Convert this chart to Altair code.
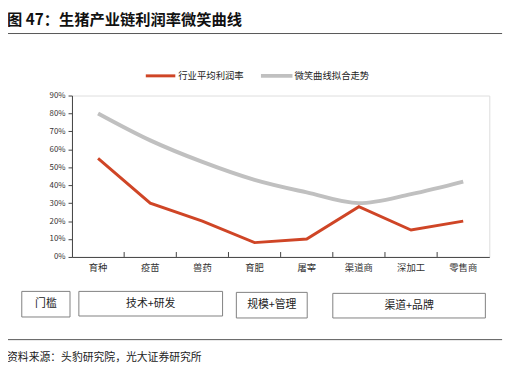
import altair as alt
import pandas as pd

FONT = "Noto Sans CJK SC"

categories = ["育种", "疫苗", "兽药", "育肥", "屠宰", "渠道商", "深加工", "零售商"]
profit = [0.55, 0.30, 0.20, 0.08, 0.10, 0.28, 0.15, 0.20]
smile = [0.80, 0.65, 0.53, 0.43, 0.36, 0.30, 0.35, 0.42]
series_names = ["行业平均利润率", "微笑曲线拟合走势"]
stage_labels = ["门槛", "技术+研发", "规模+管理", "渠道+品牌"]
title_text = "图 47：生猪产业链利润率微笑曲线"
source_text = "资料来源：头豹研究院，光大证券研究所"

RED = "#CF4526"
GRAY = "#C0C0C0"
AXIS = "#404040"

W, H = 424, 164

df = pd.DataFrame({"cat": categories, "profit": profit, "smile": smile})
order = categories

xenc = alt.X("cat:N", sort=order, title=None,
             scale=alt.Scale(paddingInner=0, paddingOuter=0),
             axis=alt.Axis(labelFont=FONT, labelFontSize=9.5, labelColor="#333333",
                           labelAngle=0, ticks=False, labelPadding=6,
                           labelOverlap=False, domainColor=AXIS))
yscale = alt.Scale(domain=[0, 0.9], nice=False)
yaxis = alt.Axis(values=[round(i * 0.1, 1) for i in range(10)], format=".0%", grid=False,
                 labelFont=FONT, labelFontSize=8, labelColor="#333333",
                 labelOverlap=False, labelBound=False, labelFlush=False,
                 tickSize=4, tickColor=AXIS, domainColor=AXIS, labelPadding=3)

base = alt.Chart(df)
gray_line = base.mark_line(color=GRAY, strokeWidth=4, interpolate="monotone").encode(
    x=xenc, y=alt.Y("smile:Q", scale=yscale, axis=yaxis, title=None))
red_line = base.mark_line(color=RED, strokeWidth=3).encode(
    x=xenc, y=alt.Y("profit:Q", scale=yscale, axis=yaxis, title=None))

ticks = alt.Chart(pd.DataFrame({"cat": categories[:-1]})).mark_rule(
    color=AXIS, strokeWidth=1).encode(
    x=alt.X("cat:N", sort=order, bandPosition=1),
    y=alt.value(H - 5), y2=alt.value(H))

layers = [gray_line, red_line, ticks]

def txt(s, x, y, size, align="left", weight="normal", color="#222222"):
    return alt.Chart(pd.DataFrame({"t": [s]})).mark_text(
        font=FONT, fontSize=size, align=align, baseline="middle",
        fontWeight=weight, color=color).encode(
        text="t:N", x=alt.value(x), y=alt.value(y))

def hline(x0, x1, y, color, width):
    return alt.Chart(pd.DataFrame({"a": [0]})).mark_rule(
        color=color, strokeWidth=width).encode(
        x=alt.value(x0), x2=alt.value(x1), y=alt.value(y))

# title and rule
layers.append(txt(title_text, -66, -77, 15.5, weight="bold", color="#111111"))
layers.append(hline(-67, 437, -63, "#555555", 1))

# legend
layers.append(hline(75, 105, -20, RED, 3))
layers.append(txt(series_names[0], 108, -20, 9.5))
layers.append(hline(192, 224, -20, GRAY, 4))
layers.append(txt(series_names[1], 226, -20, 9.5))

# stage boxes
BOXES = [(-51, -2, 199, 225), (7, 153, 199, 224), (167, 239, 200, 226), (265, 420, 201, 226)]
for label, (x0, x1, y0, y1) in zip(stage_labels, BOXES):
    layers.append(alt.Chart(pd.DataFrame({"a": [0]})).mark_rect(
        fill="white", stroke="#7F7F7F", strokeWidth=1).encode(
        x=alt.value(x0), x2=alt.value(x1), y=alt.value(y0), y2=alt.value(y1)))
    layers.append(txt(label, (x0 + x1) / 2, (y0 + y1) / 2, 11, align="center"))

# bottom rule and source
layers.append(hline(-67, 437, 248, "#555555", 1))
layers.append(txt(source_text, -66, 267, 11))

chart = alt.layer(*layers).properties(
    width=W, height=H,
    autosize=alt.AutoSizeParams(type="none"),
    padding={"left": 65, "top": 86, "right": 19, "bottom": 117},
).configure_view(stroke=None).configure(background="white")

chart.save("out.html", embed_options={"renderer": "svg", "actions": False})
